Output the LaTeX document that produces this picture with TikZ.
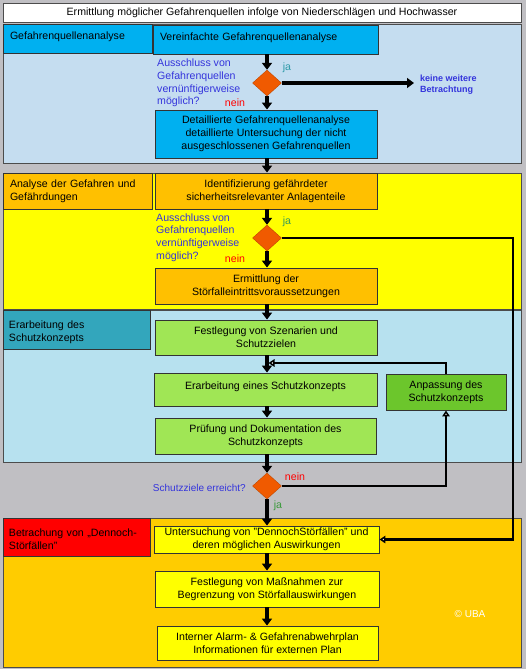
\documentclass[tikz,border=0pt]{standalone}
\usepackage{fontspec}
\setmainfont{Liberation Sans}
\usetikzlibrary{arrows.meta,shapes.geometric}
\definecolor{bggray}{HTML}{C0BFC3}
\definecolor{bandA}{HTML}{C5DDF0}
\definecolor{cyanbox}{HTML}{00B0F0}
\definecolor{bandB}{HTML}{FFFF00}
\definecolor{orangebox}{HTML}{FFC000}
\definecolor{bandC}{HTML}{B7E1EF}
\definecolor{tealbox}{HTML}{33A6BC}
\definecolor{greenbox}{HTML}{A0E655}
\definecolor{dgreenbox}{HTML}{6CC62C}
\definecolor{bandD}{HTML}{FFCC00}
\definecolor{redbox}{HTML}{FF0000}
\definecolor{yellowbox}{HTML}{FFFF00}
\definecolor{diafill}{HTML}{F05A00}
\definecolor{qblue}{HTML}{3434DC}
\definecolor{jateal}{HTML}{2E9AA8}
\definecolor{jagreen}{HTML}{3A9A3A}
\begin{document}
\begin{tikzpicture}[x=1pt,y=-1pt,
  band/.style={draw=black!70, line width=0.8pt, inner sep=0pt},
  box/.style={draw=black!80, line width=0.9pt, inner sep=0pt, align=center,
    font=\fontsize{10.6}{13}\selectfont},
  lbox/.style={box, align=left, text width=#1},
  dia/.style={diamond, fill=diafill, draw=diafill!80!black, line width=0.4pt,
    minimum width=29pt, minimum height=26pt, inner sep=0pt},
  qtext/.style={text=qblue, align=left, inner sep=0pt,
    font=\fontsize{10.6}{12.7}\selectfont},
  jatext/.style={inner sep=0pt, font=\fontsize{10.6}{13}\selectfont},
  neintext/.style={text=red, inner sep=0pt, font=\fontsize{10.6}{13}\selectfont},
  conn/.style={line width=3.5pt, -{Triangle[width=10pt,length=7pt]}},
  connb/.style={line width=2.9pt, -{Triangle[width=7.5pt,length=6pt,open,fill=white]}}
]
\useasboundingbox (0,0) rectangle (526,669);
\fill[bggray] (0,0) rectangle (526,669);

% title
\node[band, fill=white, minimum width=518pt, minimum height=19pt,
  font=\fontsize{10.6}{13}\selectfont] (title) at (262,12.5)
  {Ermittlung möglicher Gefahrenquellen infolge von Niederschlägen und Hochwasser};

% bands
\node[band, fill=bandA, minimum width=518pt, minimum height=139pt] (bandone) at (262,93.5) {};
\node[band, fill=bandB, minimum width=518pt, minimum height=136pt] (bandtwo) at (262,241) {};
\node[band, fill=bandC, minimum width=518pt, minimum height=152pt] (bandthree) at (262,386) {};
\node[band, fill=bandD, minimum width=518pt, minimum height=149pt] (bandfour) at (262,592.5) {};

% left labels
\node[lbox=135pt, fill=cyanbox, minimum width=149pt, minimum height=29pt, text depth=6pt] (lone) at (77.5,38.5) {Gefahrenquellenanalyse};
\node[lbox=135pt, fill=orangebox, minimum width=149pt, minimum height=36pt] (ltwo) at (77.5,191) {Analyse der Gefahren und\\Gefährdungen};
\node[lbox=135pt, fill=tealbox, minimum width=147pt, minimum height=39pt, text depth=10pt] (lthree) at (76.5,329.5) {Erarbeitung des\\Schutzkonzepts};
\node[lbox=135pt, fill=redbox, minimum width=147pt, minimum height=38pt, text depth=8pt] (lfour) at (76.5,537) {Betrachung von „Dennoch-\\Störfällen"};

% band 1 boxes
\node[lbox=211pt, fill=cyanbox, minimum width=225pt, minimum height=29pt, text depth=6pt] (verein) at (265.5,39.5) {Vereinfachte Gefahrenquellenanalyse};
\node[dia] (done) at (267,83) {};
\node[box, fill=cyanbox, minimum width=222pt, minimum height=48pt] (detail) at (266,134)
  {Detaillierte Gefahrenquellenanalyse\\detaillierte Untersuchung der nicht\\ausgeschlossenen Gefahrenquellen};
\node[qtext, anchor=west] (qone) at (157,83) {Ausschluss von\\Gefahrenquellen\\vernünftigerweise\\möglich?};
\node[jatext, text=jateal] (jaone) at (287,68) {ja};
\node[neintext] (neinone) at (235,103) {nein};
\node[text=qblue, align=left, inner sep=0pt, anchor=west,
  font=\fontsize{9}{11}\selectfont\bfseries] (keine) at (420,84.5) {keine weitere\\Betrachtung};
\coordinate (kw) at (414,83);

% band 2 boxes
\node[box, fill=orangebox, minimum width=222pt, minimum height=36pt] (ident) at (266,191)
  {Identifizierung gefährdeter\\sicherheitsrelevanter Anlagenteile};
\node[dia] (dtwo) at (267,238) {};
\node[box, fill=orangebox, minimum width=222pt, minimum height=36pt] (ermitt) at (266,286)
  {Ermittlung der\\Störfalleintrittsvoraussetzungen};
\node[qtext, anchor=west] (qtwo) at (156,237.5) {Ausschluss von\\Gefahrenquellen\\vernünftigerweise\\möglich?};
\node[jatext, text=jagreen!70!jateal] (jatwo) at (287,222) {ja};
\node[neintext] (neintwo) at (235,259) {nein};

% band 3 boxes
\node[box, fill=greenbox, minimum width=222pt, minimum height=35pt] (festl) at (266,337.5)
  {Festlegung von Szenarien und\\Schutzzielen};
\node[box, fill=greenbox, minimum width=223pt, minimum height=33pt, text depth=8pt] (erarb) at (265.5,389.5)
  {Erarbeitung eines Schutzkonzepts};
\node[box, fill=dgreenbox, minimum width=120pt, minimum height=36pt] (anpass) at (446,392)
  {Anpassung des\\Schutzkonzepts};
\node[box, fill=greenbox, minimum width=221pt, minimum height=36pt] (pruef) at (265.5,436)
  {Prüfung und Dokumentation des\\Schutzkonzepts};

% gray zone
\node[dia] (dthree) at (267,486) {};
\node[qtext, anchor=east, font=\fontsize{10}{12}\selectfont] (qthree) at (246,488) {Schutzziele erreicht?};
\node[neintext] (neinthree) at (295,477) {nein};
\node[jatext, text=jagreen] (jathree) at (278,506) {ja};

% band 4 boxes
\node[box, fill=yellowbox, minimum width=225pt, minimum height=27pt] (unters) at (266.5,539.5)
  {Untersuchung von "DennochStörfällen" und\\deren möglichen Auswirkungen};
\node[box, fill=yellowbox, minimum width=224pt, minimum height=36pt] (massn) at (267,589)
  {Festlegung von Maßnahmen zur\\Begrenzung von Störfallauswirkungen};
\node[box, fill=yellowbox, minimum width=221pt, minimum height=34pt] (intern) at (267.5,643)
  {Interner Alarm- \& Gefahrenabwehrplan\\Informationen für externen Plan};
\node[text=white, inner sep=0pt, font=\fontsize{10}{12}\selectfont] (uba) at (470,614) {© UBA};

% connectors
\draw[conn] (done.north |- verein.south) -- (done.north);
\draw[conn] (done.east) -- (kw);
\draw[conn] (done.south) -- (done.south |- detail.north);
\draw[conn] (done.south |- detail.south) -- (dtwo.north |- ident.north);
\draw[conn] (dtwo.north |- ident.south) -- (dtwo.north);
\draw[conn] (dtwo.south) -- (dtwo.south |- ermitt.north);
\draw[conn] (dtwo.south |- ermitt.south) -- (dtwo.south |- festl.north);
\draw[conn] (dtwo.south |- festl.south) -- (dtwo.south |- erarb.north);
\coordinate (fb) at (268.5,363);
\draw[connb] (anpass.north) |- (fb);
\draw[conn] (dtwo.south |- erarb.south) -- (dtwo.south |- pruef.north);
\draw[conn] (dthree.north |- pruef.south) -- (dthree.north);
\draw[connb] (dthree.east) -| (anpass.south);
\draw[conn] (dthree.south) -- (dthree.south |- unters.north);
\coordinate (loop) at (513,238);
\draw[connb] (dtwo.east) -- (loop) |- (unters.east);
\draw[conn] (dthree.south |- unters.south) -- (dthree.south |- massn.north);
\draw[conn] (dthree.south |- massn.south) -- (dthree.south |- intern.north);
\end{tikzpicture}
\end{document}
